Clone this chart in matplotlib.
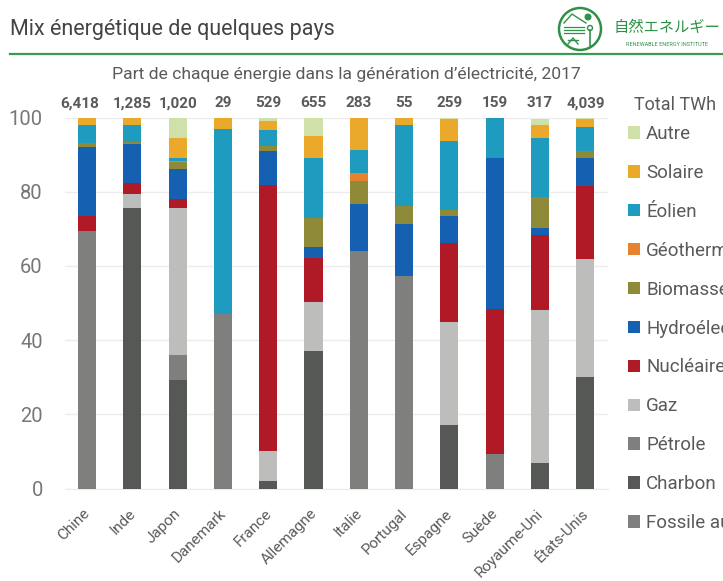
import numpy as np
from matplotlib import pyplot as plt
from matplotlib.patches import Circle
from matplotlib.transforms import ScaledTranslation

plt.rcParams['font.family'] = ['Roboto', 'Noto Sans CJK JP', 'DejaVu Sans']

W, H = 723, 581

pays = ['Chine', 'Inde', 'Japon', 'Danemark', 'France', 'Allemagne', 'Italie',
        'Portugal', 'Espagne', 'Suède', 'Royaume-Uni', 'États-Unis']
totaux = ['6,418', '1,285', '1,020', '29', '529', '655', '283', '55', '259', '159', '317', '4,039']

# part de chaque energie, en %
fossile = [69.5, 0, 0, 47.0, 0, 0, 64.0, 57.3, 0, 0, 0, 0]
charbon = [0, 75.7, 29.3, 0, 2.0, 37.0, 0, 0, 17.2, 0, 6.8, 30.0]
petrole = [0, 0, 6.7, 0, 0, 0, 0, 0, 0, 9.3, 0, 0]
gaz = [0, 3.8, 39.5, 0, 8.0, 13.2, 0, 0, 27.8, 0, 41.2, 31.8]
nucleaire = [4.0, 2.8, 2.5, 0, 71.8, 11.8, 0, 0, 21.3, 39.2, 20.2, 19.7]
hydro = [18.5, 10.5, 8.0, 0, 9.2, 3.2, 12.7, 13.9, 7.2, 40.5, 2.0, 7.7]
biomasse = [1.0, 0.7, 2.0, 0, 1.3, 7.8, 6.3, 5.0, 1.5, 0, 8.5, 1.8]
geothermie = [0, 0, 0.3, 0, 0, 0, 2.0, 0, 0, 0, 0, 0.1]
eolien = [5.0, 4.5, 0.7, 49.8, 4.2, 16.2, 6.3, 21.8, 18.7, 11.0, 15.8, 6.4]
solaire = [2.0, 2.0, 5.5, 3.2, 2.5, 5.8, 8.7, 2.0, 5.8, 0, 3.5, 2.2]
autre = [0, 0, 5.5, 0, 1.0, 5.0, 0, 0, 0.5, 0, 1.5, 0.3]

series = [
    ('Fossile autre', fossile, '#7f7f7d'),
    ('Charbon', charbon, '#565855'),
    ('Pétrole', petrole, '#7f7f7d'),
    ('Gaz', gaz, '#bdbdbb'),
    ('Nucléaire', nucleaire, '#b01a26'),
    ('Hydroélectricité', hydro, '#1560b0'),
    ('Biomasse', biomasse, '#8f8a38'),
    ('Géothermie', geothermie, '#e8822e'),
    ('Éolien', eolien, '#1f9bbf'),
    ('Solaire', solaire, '#eba92b'),
    ('Autre', autre, '#cfe0a8'),
]

GRIS = '#5a5a5a'

fig = plt.figure(figsize=(W / 100, H / 100), dpi=100, facecolor='white')

# axes du graphique, en pixels de l'image
left, right, top, bottom = 65, 608, 117.5, 488.5
ax = fig.add_axes([left / W, 1 - bottom / H, (right - left) / W, (bottom - top) / H])

x = np.arange(len(pays))
base = np.zeros(len(pays))
handles = []
for nom, vals, col in series:
    b = ax.bar(x, vals, 0.4, bottom=base, color=col, label=nom, zorder=3)
    handles.append(b)
    base = base + np.array(vals)

ax.set_xlim(-0.485, 11.5)
ax.set_ylim(0, 100)
ax.set_yticks([0, 20, 40, 60, 80, 100])
ax.grid(axis='y', color='#ececec', lw=1, zorder=0)
ax.tick_params(axis='both', length=0)
ax.tick_params(axis='y', labelsize=14.5, labelcolor='#777777', pad=16)
for s in ax.spines.values():
    s.set_visible(False)
ax.spines['bottom'].set_visible(True)
ax.spines['bottom'].set_color('#ececec')

ax.set_xticks(x)
ax.set_xticklabels(pays, rotation=45, ha='right', rotation_mode='anchor',
                   fontsize=11, color=GRIS)
ax.tick_params(axis='x', pad=13)
# les etiquettes finissent un peu plus a gauche que le centre des barres
decal = ScaledTranslation(-4 / 100, 0, fig.dpi_scale_trans)
for lab in ax.get_xticklabels():
    lab.set_transform(lab.get_transform() + decal)

for i, t in enumerate(totaux):
    # le premier total est decale vers la gauche sur l'original
    xt = i - 0.16 if i == 0 else i
    ax.text(xt, 1.02, t, transform=ax.get_xaxis_transform(), ha='center', va='bottom',
            fontsize=11, fontweight='bold', color=GRIS)

# legende, coupee par le bord droit comme sur l'original
leg = fig.legend(handles[::-1], [s[0] for s in series][::-1], loc='upper left',
                 bbox_to_anchor=(628 / W, 1 - 125 / H), frameon=False, fontsize=13.5,
                 labelcolor=GRIS, handlelength=0.64, handleheight=0.64,
                 handletextpad=0.32, labelspacing=1.115, borderpad=0, borderaxespad=0)
fig.text(634 / W, 1 - 105 / H, 'Total TWh', fontsize=13, color=GRIS, va='center')

# entete
fig.text(10 / W, 1 - 29 / H, 'Mix énergétique de quelques pays', fontsize=15.5,
         color='#444444', va='center')
fig.text(346 / W, 1 - 74 / H, "Part de chaque énergie dans la génération d’électricité, 2017",
         fontsize=12.6, color=GRIS, ha='center', va='center')

# filet vert
bg = fig.add_axes([0, 0, 1, 1], zorder=-1)
bg.set_xlim(0, W)
bg.set_ylim(H, 0)
bg.axis('off')
bg.plot([10, W], [53.5, 53.5], color='#3a9a4f', lw=1.6)

# logo
VERT = '#2f9148'
bg.add_patch(Circle((580, 29), 21, fill=False, ec=VERT, lw=1.8))
for yl in [27, 30, 33]:
    bg.plot([564, 584], [yl, yl], color=VERT, lw=0.9)
bg.plot([564, 572, 578, 586], [23, 14, 18, 23], color=VERT, lw=1)
bg.plot([568, 578], [40, 40], color=VERT, lw=1)
bg.plot([568, 573, 578], [44, 38, 44], color=VERT, lw=1)
bg.plot([590, 590], [30, 46], color=VERT, lw=1.2)
bg.add_patch(Circle((590, 28), 2.5, fill=False, ec=VERT, lw=1))
bg.add_patch(Circle((588, 17), 2.8, color=VERT))
bg.text(614, 27.5, '自然エネルギー', fontsize=11, color=VERT, va='center')
bg.text(626, 44.5, 'RENEWABLE ENERGY INSTITUTE', fontsize=4, color=VERT, va='center')

fig.savefig('out.png', dpi=100)
